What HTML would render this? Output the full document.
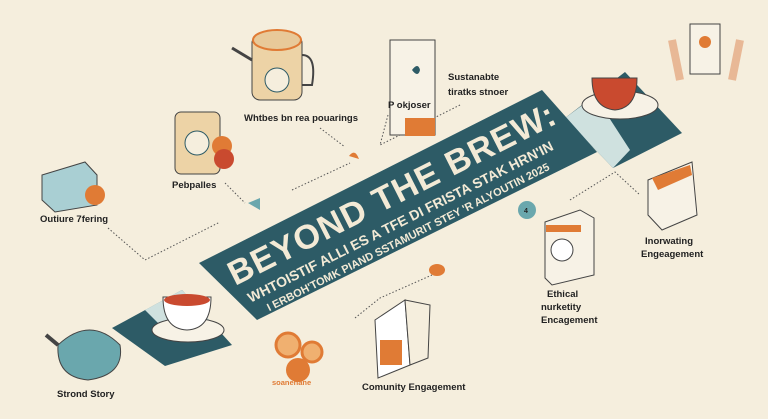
<!DOCTYPE html>
<html><head><meta charset="utf-8"><style>
html,body{margin:0;padding:0;background:#f5eedd;}
svg{display:block}
text{font-family:"Liberation Sans",sans-serif;font-weight:bold;}
</style></head><body>
<svg width="768" height="419" viewBox="0 0 768 419" xmlns="http://www.w3.org/2000/svg">
<rect width="768" height="419" fill="#f5eedd"/>
<!-- end panels -->
<polygon points="112,328 182,290 232,345 165,366" fill="#2d5b66"/>
<polygon points="145,310 182,290 215,326 175,340" fill="#cfe1df"/>
<polygon points="565,118 625,72 682,133 613,168" fill="#2d5b66"/>
<polygon points="565,118 595,96 630,150 613,168" fill="#cfe1df"/>
<!-- main banner -->
<polygon points="199,263 542,90 597,152 257,320" fill="#2d5b66"/>
<g transform="translate(398,206) rotate(-26.8)" fill="#f3ead6">
<text x="0" y="-2" font-size="34" text-anchor="middle" letter-spacing="1">BEYOND THE BREW:</text>
<text x="-5" y="20" font-size="14" text-anchor="middle">WHTOISTIF ALLI ES A TFE DI FRISTA STAK HRN'IN</text>
<text x="-5" y="36" font-size="11" text-anchor="middle">I ERBOH'TOMK PIAND SSTAMURIT STEY 'R ALYOUTIN 2025</text>
</g>
<!-- dotted connectors -->
<g stroke="#555" stroke-width="1" stroke-dasharray="1.5,2" fill="none">
<path d="M320,128 L345,147"/><path d="M388,115 L380,145 L460,105"/>
<path d="M292,190 L350,163"/><path d="M225,183 L245,203"/>
<path d="M108,228 L145,260 L220,222"/><path d="M355,318 L380,298 L432,275"/>
<path d="M570,200 L615,172 L640,195"/>
</g>
<!-- small orange/teal markers -->
<path d="M349,156 q6,-8 10,3 z" fill="#e07b35"/>
<path d="M248,203 l12,-5 l0,12 z" fill="#6aa7ad"/>
<ellipse cx="437" cy="270" rx="8" ry="6" fill="#e07b35"/>
<circle cx="527" cy="210" r="9" fill="#6aa7ad"/><text x="524" y="213" font-size="7" fill="#222">4</text>
<!-- teapot top -->
<rect x="252" y="35" width="50" height="65" rx="8" fill="#edd3a6" stroke="#444"/>
<ellipse cx="277" cy="40" rx="24" ry="10" fill="#e8c999" stroke="#e07b35" stroke-width="2"/>
<path d="M252,60 L232,48" stroke="#444" stroke-width="3"/>
<path d="M302,55 q15,0 10,30 l-10,0" fill="none" stroke="#444" stroke-width="2"/>
<circle cx="277" cy="80" r="12" fill="#f5eedd" stroke="#2d5b66"/>
<text x="244" y="121" font-size="9.5" fill="#222">Whtbes bn  rea pouarings</text>
<!-- pack top -->
<rect x="390" y="40" width="45" height="95" fill="#f7f2e6" stroke="#444"/>
<rect x="405" y="118" width="30" height="18" fill="#e07b35"/>
<path d="M412,70 q6,-8 8,0 q-2,8 -8,0" fill="#2d5b66"/>
<text x="448" y="80" font-size="9.5" fill="#222">Sustanabte</text>
<text x="448" y="95" font-size="9.5" fill="#222">tiratks stnoer</text>
<text x="388" y="108" font-size="9.5" fill="#222">P okjoser</text>
<!-- hands phone -->
<rect x="690" y="24" width="30" height="50" fill="#f7f2e6" stroke="#444"/>
<circle cx="705" cy="42" r="6" fill="#e07b35"/>
<path d="M672,40 l8,40 M740,40 l-8,40" stroke="#e8b896" stroke-width="8"/>
<!-- top right cup -->
<ellipse cx="620" cy="105" rx="38" ry="14" fill="#f7f2e6" stroke="#444"/>
<path d="M592,78 h45 q0,30 -22,32 q-23,-2 -23,-32z" fill="#c94a2f" stroke="#444"/>
<!-- jar -->
<rect x="175" y="112" width="45" height="62" rx="6" fill="#edd3a6" stroke="#444"/>
<circle cx="197" cy="143" r="12" fill="#f5eedd" stroke="#2d5b66"/>
<circle cx="222" cy="146" r="10" fill="#e07b35"/><circle cx="224" cy="159" r="10" fill="#c94a2f"/>
<text x="172" y="188" font-size="9.5" fill="#222">Pebpalles</text>
<!-- box left -->
<polygon points="42,175 85,162 97,175 97,205 55,212 42,200" fill="#a9cfd3" stroke="#444"/>
<circle cx="95" cy="195" r="10" fill="#e07b35"/>
<text x="40" y="222" font-size="9.5" fill="#222">Outiure 7fering</text>
<!-- cup left -->
<ellipse cx="188" cy="330" rx="36" ry="12" fill="#f7f2e6" stroke="#444"/>
<path d="M163,297 h48 q0,32 -24,33 q-24,-1 -24,-33z" fill="#fff" stroke="#444"/>
<ellipse cx="187" cy="300" rx="23" ry="6" fill="#c94a2f"/>
<!-- teapot left -->
<path d="M58,345 q32,-30 62,0 q5,30 -32,35 q-32,-3 -30,-35z" fill="#6aa7ad" stroke="#444"/>
<path d="M58,345 l-12,-10" stroke="#444" stroke-width="4"/>
<text x="57" y="397" font-size="9.5" fill="#222">Strond Story</text>
<!-- gears -->
<circle cx="288" cy="345" r="12" fill="#f0b070" stroke="#e07b35" stroke-width="3"/>
<circle cx="312" cy="352" r="10" fill="#f0b070" stroke="#e07b35" stroke-width="3"/>
<circle cx="298" cy="370" r="12" fill="#e07b35"/>
<text x="272" y="385" font-size="7.5" fill="#e07b35">soanenane</text>
<!-- community pack -->
<polygon points="375,320 405,300 410,365 378,378" fill="#fff" stroke="#444"/>
<polygon points="405,300 430,305 428,358 410,365" fill="#f5eedd" stroke="#444"/>
<rect x="380" y="340" width="22" height="25" fill="#e07b35"/>
<text x="362" y="390" font-size="9.5" fill="#222">Comunity Engagement</text>
<!-- ethical carton -->
<polygon points="545,222 580,210 594,218 594,275 552,285 545,278" fill="#f7f2e6" stroke="#444"/>
<rect x="546" y="225" width="35" height="7" fill="#e07b35"/>
<circle cx="562" cy="250" r="11" fill="#fff" stroke="#444"/>
<text x="547" y="297" font-size="9.5" fill="#222">Ethical</text>
<text x="541" y="310" font-size="9.5" fill="#222">nurketity</text>
<text x="541" y="323" font-size="9.5" fill="#222">Encagement</text>
<!-- bag right -->
<polygon points="648,180 692,162 697,215 662,230 648,215" fill="#f7f2e6" stroke="#444"/>
<polygon points="652,178 690,165 692,175 658,190" fill="#e07b35"/>
<text x="645" y="244" font-size="9.5" fill="#222">Inorwating</text>
<text x="641" y="257" font-size="9.5" fill="#222">Engeagement</text>
</svg>
</body></html>
